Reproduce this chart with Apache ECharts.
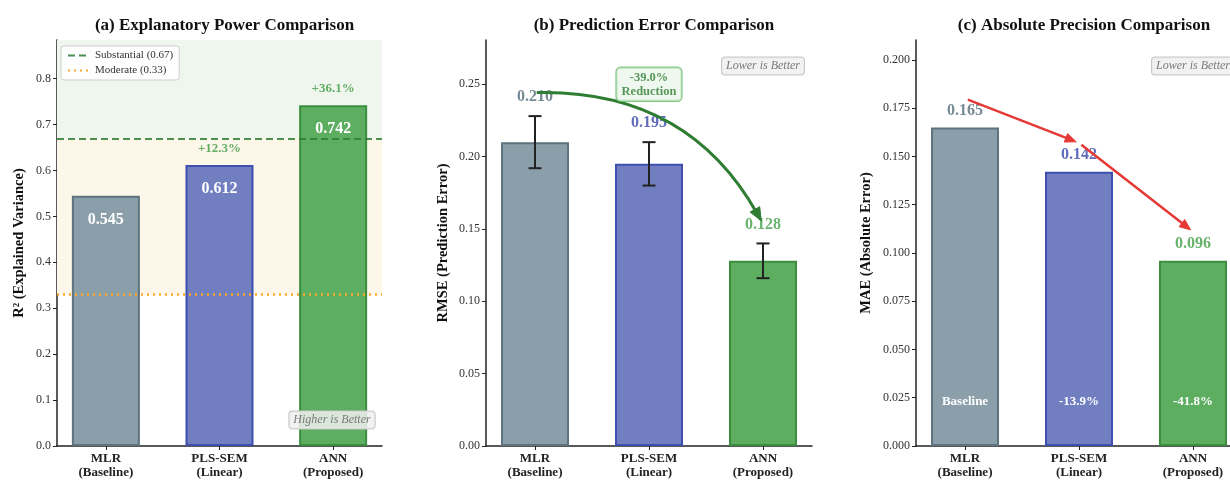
<!DOCTYPE html>
<html><head><meta charset="utf-8">
<script src="https://cdn.jsdelivr.net/npm/echarts@6/dist/echarts.min.js"></script>
<style>html,body{margin:0;padding:0;background:#fff;overflow:hidden}#c{width:1250px;height:480px}</style>
</head><body><div id="c"></div>
<script>
// ---------- data ----------
const categories = ['MLR\n(Baseline)', 'PLS-SEM\n(Linear)', 'ANN\n(Proposed)'];
const r2 = [0.545, 0.612, 0.742];
const r2Gain = ['', '+12.3%', '+36.1%'];
const rmse = [0.210, 0.195, 0.128];
const rmseErr = [0.018, 0.015, 0.012];
const mae = [0.165, 0.142, 0.096];
const maeChange = ['Baseline', '-13.9%', '-41.8%'];
const thresholdValues = [0.67, 0.33];
const thresholdNames = ['Substantial (0.67)', 'Moderate (0.33)'];
const ticksA = [0, 0.1, 0.2, 0.3, 0.4, 0.5, 0.6, 0.7, 0.8];
const ticksB = [0, 0.05, 0.10, 0.15, 0.20, 0.25];
const ticksC = [0, 0.025, 0.05, 0.075, 0.10, 0.125, 0.15, 0.175, 0.20];
const rmseArrow = [[0, 0.245], [2, 0.155]];
const reductionPos = [1, 0.25];
const reductionText = '-39.0%\nReduction';
const titles = ['(a) Explanatory Power Comparison', '(b) Prediction Error Comparison', '(c) Absolute Precision Comparison'];
const yNames = ['R² (Explained Variance)', 'RMSE (Prediction Error)', 'MAE (Absolute Error)'];

// ---------- style ----------
const FONT = 'Liberation Serif';
const fill = ['#8a9fa9', '#717fc0', '#5dae61'];
const edge = ['#5d737d', '#3f4fb0', '#3a8e3e'];
const labelCol = ['#546e7a', '#3949ab', '#43a047'];
const Y_MAX = [0.884, 0.2806, 0.2103];
const X_MIN = -0.43, X_MAX = 2.43;
const grids = [
  {left: 57, top: 40, width: 325, height: 406},
  {left: 486, top: 40, width: 326, height: 406},
  {left: 916, top: 40, width: 326, height: 406}
];

const chart = echarts.init(document.getElementById('c'));

function xAxis(gi) {
  return {
    gridIndex: gi, type: 'value', min: X_MIN, max: X_MAX,
    axisLine: {show: true, onZero: false, lineStyle: {color: '#222', width: 1.5}},
    axisTick: {show: true, customValues: [0, 1, 2], length: 4, lineStyle: {color: '#222', width: 1}},
    axisLabel: {customValues: [0, 1, 2], formatter: v => categories[Math.round(v)],
      fontFamily: FONT, fontWeight: 'bold', fontSize: 13, color: '#222', lineHeight: 14, margin: 6},
    splitLine: {show: false}
  };
}
function yAxis(gi, ticks, dec, gap) {
  return {
    gridIndex: gi, type: 'value', min: 0, max: Y_MAX[gi],
    name: yNames[gi], nameLocation: 'middle', nameGap: gap,
    nameTextStyle: {fontFamily: FONT, fontWeight: 'bold', fontSize: 14.5, color: '#111'},
    axisLine: {show: true, onZero: false, lineStyle: {color: '#222', width: 1.5}},
    axisTick: {show: true, customValues: ticks, length: 4, lineStyle: {color: '#222', width: 1}},
    axisLabel: {customValues: ticks, formatter: v => v.toFixed(dec), fontFamily: FONT, fontSize: 12, color: '#333', margin: 6},
    splitLine: {show: false}
  };
}
function barData(vals) {
  return vals.map((v, i) => ({
    value: [i, v],
    itemStyle: {color: fill[i], borderColor: edge[i], borderWidth: 2}
  }));
}
function arrowShape(p0, p2, rad, shrink, color, lw, headL, headW) {
  let dx = p2[0] - p0[0], dy = p2[1] - p0[1];
  const len = Math.hypot(dx, dy);
  const ux = dx / len, uy = dy / len;
  p0 = [p0[0] + ux * shrink, p0[1] + uy * shrink];
  p2 = [p2[0] - ux * shrink, p2[1] - uy * shrink];
  dx = p2[0] - p0[0]; dy = p2[1] - p0[1];
  const mx = (p0[0] + p2[0]) / 2, my = (p0[1] + p2[1]) / 2;
  const cx = mx - rad * dy, cy = my + rad * dx;
  const ang = Math.atan2(p2[1] - cy, p2[0] - cx);
  const ca = Math.cos(ang), sa = Math.sin(ang);
  const bx = p2[0] - headL * ca, by = p2[1] - headL * sa;
  const ex = p2[0] - headL * 0.6 * ca, ey = p2[1] - headL * 0.6 * sa;
  return [
    {type: 'bezierCurve', shape: {x1: p0[0], y1: p0[1], x2: ex, y2: ey, cpx1: cx, cpy1: cy},
      style: {stroke: color, lineWidth: lw, fill: null}},
    {type: 'polygon', shape: {points: [[p2[0], p2[1]], [bx - headW / 2 * sa, by + headW / 2 * ca], [bx + headW / 2 * sa, by - headW / 2 * ca]]},
      style: {fill: color, stroke: color, lineWidth: 1}}
  ];
}

const series = [];
// ----- panel a -----
series.push({
  type: 'line', name: thresholdNames[1], xAxisIndex: 0, yAxisIndex: 0, data: [], symbol: 'none', showSymbol: false,
  lineStyle: {color: '#ffa726', width: 2.5, type: [2, 4]},
  itemStyle: {color: '#ffa726'},
  markArea: {silent: true, z: 1, itemStyle: {color: '#fdf7ea'}, data: [[{yAxis: thresholdValues[1]}, {yAxis: thresholdValues[0]}]]},
  markLine: {silent: true, z: 6, symbol: 'none', label: {show: false},
    lineStyle: {color: '#ffa726', width: 2.5, type: [2, 4]}, data: [{yAxis: thresholdValues[1]}]}
});
series.push({
  type: 'line', name: thresholdNames[0], xAxisIndex: 0, yAxisIndex: 0, data: [], symbol: 'none', showSymbol: false,
  lineStyle: {color: '#2e7d32', width: 2, type: [7, 4], opacity: 0.85},
  itemStyle: {color: '#2e7d32'},
  markArea: {silent: true, z: 1, itemStyle: {color: '#eef6ee'}, data: [[{yAxis: thresholdValues[0]}, {yAxis: Y_MAX[0]}]]},
  markLine: {silent: true, z: 6, symbol: 'none', label: {show: false},
    lineStyle: {color: '#2e7d32', width: 2, type: [7, 4], opacity: 0.85}, data: [{yAxis: thresholdValues[0]}]}
});
series.push({
  type: 'bar', xAxisIndex: 0, yAxisIndex: 0, barWidth: 68, z: 3, data: barData(r2),
  label: {show: true, position: 'insideTop', distance: 16, formatter: p => p.value[1].toFixed(3),
    color: '#fff', fontFamily: FONT, fontWeight: 'bold', fontSize: 16}
});
series.push({
  type: 'scatter', xAxisIndex: 0, yAxisIndex: 0, symbolSize: 0, z: 4,
  data: r2.map((v, i) => [i, v]),
  label: {show: true, position: 'top', distance: 10, formatter: p => r2Gain[p.dataIndex],
    color: '#3d9a41', fontFamily: FONT, fontWeight: 'bold', fontSize: 13}
});
// ----- panel b -----
series.push({
  type: 'bar', xAxisIndex: 1, yAxisIndex: 1, barWidth: 68, z: 3, data: barData(rmse)
});
series.push({
  type: 'custom', xAxisIndex: 1, yAxisIndex: 1, z: 5,
  data: rmse.map((v, i) => [i, v - rmseErr[i], v + rmseErr[i]]),
  encode: {x: 0, y: [1, 2]},
  renderItem: (params, api) => {
    const x = api.value(0);
    const lo = api.coord([x, api.value(1)]);
    const hi = api.coord([x, api.value(2)]);
    const cap = 6.5, st = {stroke: '#222', lineWidth: 2};
    return {type: 'group', children: [
      {type: 'line', shape: {x1: lo[0], y1: lo[1], x2: hi[0], y2: hi[1]}, style: st},
      {type: 'line', shape: {x1: lo[0] - cap, y1: lo[1], x2: lo[0] + cap, y2: lo[1]}, style: st},
      {type: 'line', shape: {x1: hi[0] - cap, y1: hi[1], x2: hi[0] + cap, y2: hi[1]}, style: st}
    ]};
  }
});
series.push({
  type: 'scatter', xAxisIndex: 1, yAxisIndex: 1, symbolSize: 0, z: 4,
  data: rmse.map((v, i) => ({value: [i, v + rmseErr[i]], label: {color: labelCol[i]}})),
  label: {show: true, position: 'top', distance: 11, formatter: p => rmse[p.dataIndex].toFixed(3),
    fontFamily: FONT, fontWeight: 'bold', fontSize: 16}
});
series.push({
  type: 'custom', xAxisIndex: 1, yAxisIndex: 1, z: 10,
  data: [[rmseArrow[0][0], rmseArrow[0][1], rmseArrow[1][0], rmseArrow[1][1]]],
  encode: {x: [0, 2], y: [1, 3]},
  renderItem: (params, api) => {
    const p0 = api.coord([api.value(0), api.value(1)]);
    const p2 = api.coord([api.value(2), api.value(3)]);
    return {type: 'group', children: arrowShape(p0, p2, -0.3, 2, '#2e7d32', 3, 13, 11)};
  }
});
series.push({
  type: 'scatter', xAxisIndex: 1, yAxisIndex: 1, symbolSize: 0, z: 11,
  data: [reductionPos],
  label: {show: true, position: 'inside', formatter: reductionText,
    color: '#2e7d32', fontFamily: FONT, fontWeight: 'bold', fontSize: 12.5, lineHeight: 14,
    backgroundColor: 'rgba(232,245,233,0.9)', borderColor: '#66bb6a', borderWidth: 1.2, borderRadius: 4, padding: [3, 5, 2, 5]}
});
// ----- panel c -----
series.push({
  type: 'bar', xAxisIndex: 2, yAxisIndex: 2, barWidth: 68, z: 3, data: barData(mae),
  label: {show: true, position: 'insideBottom', distance: 38, formatter: p => maeChange[p.dataIndex],
    color: '#fff', fontFamily: FONT, fontWeight: 'bold', fontSize: 13}
});
series.push({
  type: 'scatter', xAxisIndex: 2, yAxisIndex: 2, symbolSize: 0, z: 4,
  data: mae.map((v, i) => ({value: [i, v], label: {color: labelCol[i]}})),
  label: {show: true, position: 'top', distance: 9, formatter: p => mae[p.dataIndex].toFixed(3),
    fontFamily: FONT, fontWeight: 'bold', fontSize: 16}
});
series.push({
  type: 'custom', xAxisIndex: 2, yAxisIndex: 2, z: 10,
  data: mae.slice(0, -1).map((v, i) => [i, v + 0.015, i + 1, mae[i + 1] + 0.015]),
  encode: {x: [0, 2], y: [1, 3]},
  renderItem: (params, api) => {
    const p0 = api.coord([api.value(0), api.value(1)]);
    const p2 = api.coord([api.value(2), api.value(3)]);
    return {type: 'group', children: arrowShape(p0, p2, 0, 3, '#e53935', 2.5, 11, 9)};
  }
});

const boxText = (txt, x, y) => ({
  type: 'text', x, y, z: 20,
  style: {text: txt, align: 'center', verticalAlign: 'middle', fill: '#7a7a7a',
    font: 'italic 12px "' + FONT + '"', backgroundColor: 'rgba(240,240,240,0.85)',
    borderColor: '#c8c8c8', borderWidth: 1, borderRadius: 3, padding: [3, 4, 2, 4]}
});

chart.setOption({
  animation: false,
  backgroundColor: '#fff',
  grid: grids,
  title: titles.map((t, i) => ({
    text: t, left: grids[i].left + grids[i].width / 2, top: 12, textAlign: 'center',
    textStyle: {fontFamily: FONT, fontWeight: 'bold', fontSize: 17, color: '#111'}
  })),
  legend: {
    data: [thresholdNames[0], thresholdNames[1]], orient: 'vertical', left: 61, top: 46,
    backgroundColor: 'rgba(255,255,255,0.85)', borderColor: '#cfcfcf', borderWidth: 1, borderRadius: 3,
    padding: [4, 6, 4, 6], itemGap: 4, itemWidth: 22, itemHeight: 10,
    itemStyle: {color: 'transparent', borderColor: 'transparent', borderWidth: 0, opacity: 0},
    textStyle: {fontFamily: FONT, fontSize: 11, color: '#333'}
  },
  xAxis: [xAxis(0), xAxis(1), xAxis(2)],
  yAxis: [yAxis(0, ticksA, 1, 30), yAxis(1, ticksB, 2, 35), yAxis(2, ticksC, 3, 42)],
  series,
  graphic: [
    boxText('Higher is Better', 332, 420),
    boxText('Lower is Better', 763, 66),
    boxText('Lower is Better', 1193, 66)
  ]
});
</script></body></html>
